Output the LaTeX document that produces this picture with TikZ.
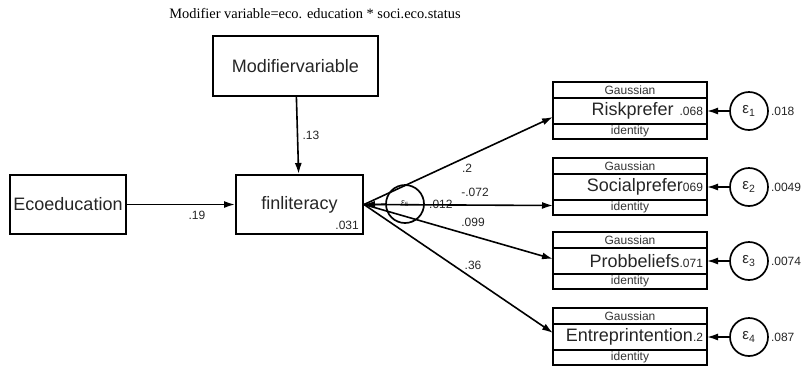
\documentclass[tikz,border=0pt]{standalone}
\usepackage{fontspec}
\setmainfont{Liberation Sans}
\newfontfamily\titlefont{Liberation Serif}
\usetikzlibrary{arrows.meta,positioning}
\newcommand\estnum[1]{{\fontsize{12}{12}\selectfont #1}}

\begin{document}
\begin{tikzpicture}[
    x=1pt, y=-1pt,
    varbox/.style={draw, line width=2pt, align=center, inner sep=2pt, text=black!85, font=\fontsize{18}{20}\selectfont},
    obsbox/.style={draw, line width=2pt, minimum width=154pt, minimum height=26pt, text width=146pt, align=right, inner sep=3pt, outer sep=0pt, text=black!85, font=\fontsize{18}{20}\selectfont},
    famrow/.style={draw, line width=2pt, minimum width=154pt, inner sep=0pt, outer sep=0pt, text=black!80, font=\fontsize{12}{12}\selectfont},
    errcirc/.style={draw, circle, line width=1.7pt, minimum size=38pt, inner sep=0pt, text=black!85, font=\fontsize{15}{15}\selectfont},
    coef/.style={inner sep=1pt, text=black!85, font=\fontsize{12}{12}\selectfont},
    arrow/.style={-{Latex[length=11pt,width=7pt]}, line width=1.6pt}
]
\useasboundingbox (0,0) rectangle (808,368);
\node[font=\titlefont\fontsize{14.4}{16}\selectfont] (title) at (315,14) {Modifier variable=eco. education * soci.eco.status};
% left part
\node[varbox, minimum width=165pt, minimum height=60pt] (modvar) at (295.5,66) {Modifiervariable};
\node[varbox, minimum width=116pt, minimum height=59pt] (eco) at (68,204.5) {Ecoeducation};
\node[varbox, minimum width=127pt, minimum height=59pt] (fin) at (299.5,204.5) {finliteracy};
\node[coef, anchor=south east] (fincons) at ([xshift=-4pt,yshift=4pt]fin.south east) {.031};
\node[errcirc, font=\fontsize{9}{9}\selectfont] (e5) at (405,204) {\raisebox{-4pt}{ε\textsubscript{5}}};
\node[coef, anchor=west] (e5var) at (428,204) {.012};
% outcomes
\node[obsbox] (risk) at (630,111) {Riskprefer \estnum{.068}};
\node[famrow, minimum height=16pt, above=0pt of risk] (riskfam) {Gaussian};
\node[famrow, minimum height=15pt, below=0pt of risk] (risklink) {identity};
\node[obsbox] (social) at (630,187) {Socialprefer\estnum{069}};
\node[famrow, minimum height=16pt, above=0pt of social] (socialfam) {Gaussian};
\node[famrow, minimum height=15pt, below=0pt of social] (sociallink) {identity};
\node[obsbox] (prob) at (630,261) {Probbeliefs\estnum{.071}};
\node[famrow, minimum height=16pt, above=0pt of prob] (probfam) {Gaussian};
\node[famrow, minimum height=15pt, below=0pt of prob] (problink) {identity};
\node[obsbox] (entre) at (630,337) {Entreprintention\estnum{.2}};
\node[famrow, minimum height=16pt, above=0pt of entre] (entrefam) {Gaussian};
\node[famrow, minimum height=15pt, below=0pt of entre] (entrelink) {identity};
% errors
\node[errcirc] (e1) at (749,111) {ε\textsubscript{1}};
\node[errcirc] (e2) at (749,187) {ε\textsubscript{2}};
\node[errcirc] (e3) at (749,261) {ε\textsubscript{3}};
\node[errcirc] (e4) at (749,337) {ε\textsubscript{4}};
\node[coef, anchor=west, right=1pt of e1] (e1var) {.018};
\node[coef, anchor=west, right=1pt of e2] (e2var) {.0049};
\node[coef, anchor=west, right=1pt of e3] (e3var) {.0074};
\node[coef, anchor=west, right=1pt of e4] (e4var) {.087};
% paths
\draw[arrow] (modvar) -- (fin);
\draw[arrow] (eco) -- (fin);
\draw[arrow] (e5) -- (fin.east);
\draw[arrow] (fin.east) -- ([yshift=-6pt]risk.west);
\draw[arrow] (fin.east) -- ([yshift=2pt]sociallink.west);
\draw[arrow] (fin.east) -- ([yshift=2pt]prob.west);
\draw[arrow] (fin.east) -- ([yshift=4pt]entre.west);
\draw[arrow] (e1) -- (risk);
\draw[arrow] (e2) -- (social);
\draw[arrow] (e3) -- (prob);
\draw[arrow] (e4) -- (entre);
% coefficients
\node[coef] (c13) at (311,135) {.13};
\node[coef] (c19) at (197,215) {.19};
\node[coef] (c2) at (467,168) {.2};
\node[coef] (c072) at (475,192) {-.072};
\node[coef] (c099) at (473,222) {.099};
\node[coef] (c36) at (473,265) {.36};
\end{tikzpicture}
\end{document}
